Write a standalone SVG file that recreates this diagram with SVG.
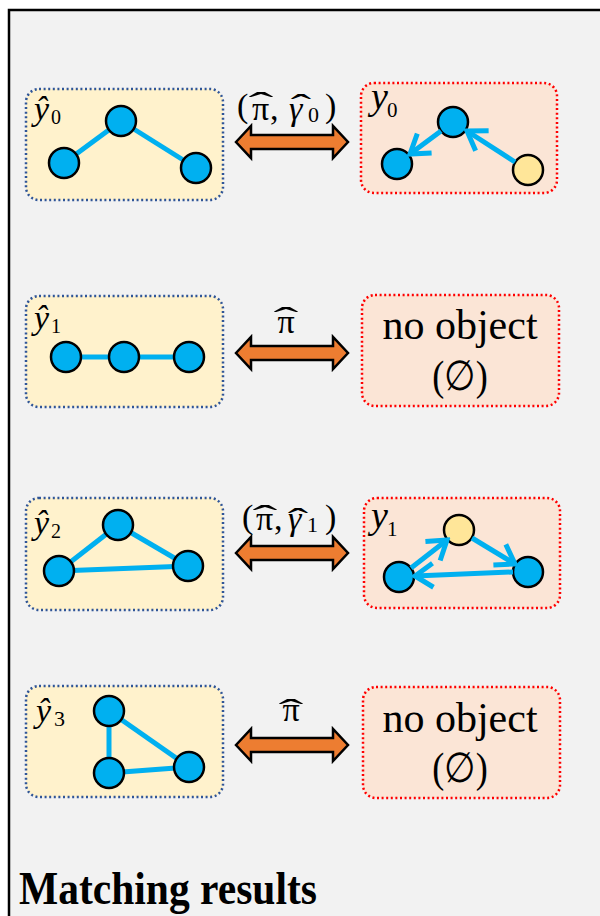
<svg xmlns="http://www.w3.org/2000/svg" width="600" height="916" viewBox="0 0 600 916">
<style>
.pred{fill:#fff2cc;stroke:#2f5597;stroke-width:2.5;stroke-dasharray:2 2.6}
.gt{fill:#fbe5d6;stroke:#ff0000;stroke-width:2.5;stroke-dasharray:2 2.6}
.n{fill:#00b0f0;stroke:#000;stroke-width:2.5}
.ny{fill:#ffe699;stroke:#000;stroke-width:2.5}
.e{stroke:#00b0f0;stroke-width:5;fill:none}
.da{fill:#ed7d31;stroke:#000;stroke-width:2.5;stroke-linejoin:miter}
.m{font-family:"Liberation Serif","DejaVu Serif",serif;fill:#000}
.mi{font-family:"Liberation Serif","DejaVu Serif",serif;font-style:italic;fill:#000}
.hat{font-family:"Liberation Serif","DejaVu Serif",serif;font-size:34px;fill:#000;text-anchor:middle}
.t{font-family:"Liberation Serif","DejaVu Serif",serif;font-size:42px;fill:#000;text-anchor:middle}
</style>
<defs>
<marker id="chev" markerUnits="userSpaceOnUse" viewBox="-24 -16 28 32" refX="0" refY="0" markerWidth="28" markerHeight="32" orient="auto">
<path d="M-18,-12 L0,0 L-18,12" fill="none" stroke="#00b0f0" stroke-width="5"/>
</marker>
<path id="dbl" class="da" d="M0,0 L15,-16 L15,-7 L97,-7 L97,-16 L112,0 L97,16 L97,7 L15,7 L15,16 Z"/>
</defs>
<rect x="0" y="0" width="600" height="916" fill="#ffffff"/>
<rect x="9" y="10" width="610" height="930" fill="#f2f2f2" stroke="#000" stroke-width="2.5"/>

<!-- Row 1 -->
<g id="pred0">
<rect class="pred" x="26" y="89" width="197" height="111" rx="13"/>
<line class="e" x1="121" y1="121" x2="64" y2="163"/>
<line class="e" x1="121" y1="121" x2="196" y2="168"/>
<circle class="n" cx="121" cy="121" r="15"/>
<circle class="n" cx="64" cy="163" r="15"/>
<circle class="n" cx="196" cy="168" r="15"/>
<text class="mi" x="34" y="120" font-size="34">ŷ</text>
<text class="m" x="51" y="124" font-size="20">0</text>
</g>
<g id="gt0">
<rect class="gt" x="361" y="83" width="196" height="110" rx="13"/>
<circle class="n" cx="453" cy="122" r="15"/>
<circle class="n" cx="397" cy="164" r="15"/>
<circle class="ny" cx="528" cy="170" r="15"/>
<text class="mi" x="371" y="109" font-size="38">y</text>
<text class="m" x="387" y="117" font-size="21">0</text>
</g>

<!-- Row 2 -->
<g id="pred1">
<rect class="pred" x="26" y="296" width="197" height="111" rx="13"/>
<line class="e" x1="66" y1="357" x2="189" y2="357"/>
<circle class="n" cx="66" cy="357" r="15"/>
<circle class="n" cx="124" cy="357" r="15"/>
<circle class="n" cx="189" cy="357" r="15"/>
<text class="mi" x="34" y="329" font-size="34">ŷ</text>
<text class="m" x="51" y="333" font-size="20">1</text>
</g>
<g id="gt1">
<rect class="gt" x="362" y="295" width="197" height="111" rx="13"/>
<text class="t" x="460" y="339">no object</text>
<text class="t" transform="translate(460,390) scale(0.86,1)">(∅)</text>
</g>

<!-- Row 3 -->
<g id="pred2">
<rect class="pred" x="26" y="498" width="197" height="112" rx="13"/>
<line class="e" x1="118" y1="525" x2="59" y2="571"/>
<line class="e" x1="118" y1="525" x2="188" y2="566"/>
<line class="e" x1="59" y1="571" x2="188" y2="566"/>
<circle class="n" cx="118" cy="525" r="15"/>
<circle class="n" cx="59" cy="571" r="15"/>
<circle class="n" cx="188" cy="566" r="15"/>
<text class="mi" x="34" y="534" font-size="34">ŷ</text>
<text class="m" x="51" y="538" font-size="20">2</text>
</g>
<g id="gt2">
<rect class="gt" x="364" y="498" width="196" height="110" rx="13"/>
<circle class="ny" cx="459" cy="530" r="15"/>
<circle class="n" cx="399" cy="577" r="15"/>
<circle class="n" cx="528" cy="572" r="15"/>
<text class="mi" x="371" y="528" font-size="38">y</text>
<text class="m" x="387" y="536" font-size="21">1</text>
</g>

<!-- Row 4 -->
<g id="pred3">
<rect class="pred" x="26" y="686" width="197" height="111" rx="13"/>
<line class="e" x1="109" y1="711" x2="109" y2="773"/>
<line class="e" x1="109" y1="711" x2="189" y2="767"/>
<line class="e" x1="109" y1="773" x2="189" y2="767"/>
<circle class="n" cx="109" cy="711" r="15"/>
<circle class="n" cx="109" cy="773" r="15"/>
<circle class="n" cx="189" cy="767" r="15"/>
<text class="mi" x="36" y="722" font-size="34">ŷ</text>
<text class="m" x="54" y="726" font-size="22">3</text>
</g>
<g id="gt3">
<rect class="gt" x="363" y="687" width="197" height="111" rx="13"/>
<text class="t" x="460" y="732">no object</text>
<text class="t" transform="translate(460,782) scale(0.86,1)">(∅)</text>
</g>

<!-- connectors -->
<g id="connectors">
<line class="e" x1="441" y1="131" x2="410" y2="154" marker-end="url(#chev)"/>
<line class="e" x1="515" y1="162" x2="467" y2="131" marker-end="url(#chev)"/>
<line class="e" x1="411" y1="568" x2="447" y2="540" marker-end="url(#chev)"/>
<line class="e" x1="472" y1="538" x2="515" y2="564" marker-end="url(#chev)"/>
<line class="e" x1="513" y1="572" x2="415" y2="576" marker-end="url(#chev)"/>
<use href="#dbl" x="236" y="142"/>
<use href="#dbl" x="236" y="353"/>
<use href="#dbl" x="236" y="553"/>
<use href="#dbl" x="236" y="745"/>
</g>

<g id="label0">
<text class="m" font-size="34" y="117"><tspan x="237">(</tspan><tspan x="252" y="120">π</tspan><tspan x="270" y="120">,</tspan><tspan x="289" y="120" font-style="italic">γ</tspan><tspan x="308" y="122" font-size="22">0</tspan><tspan x="325" y="117">)</tspan></text>
<text class="hat" transform="translate(261,116) scale(2.2,1)">ˆ</text>
<text class="hat" transform="translate(301,118) scale(1.8,1)">ˆ</text>
</g>
<g id="label1">
<text class="m" font-size="34" x="286" y="333" text-anchor="middle">π</text>
<text class="hat" transform="translate(286,331) scale(2.2,1)">ˆ</text>
</g>
<g id="label2">
<text class="m" font-size="34" y="528"><tspan x="242">(</tspan><tspan x="256" y="530">π</tspan><tspan x="274" y="530">,</tspan><tspan x="288" y="530" font-style="italic">γ</tspan><tspan x="307" y="532" font-size="22">1</tspan><tspan x="325" y="528">)</tspan></text>
<text class="hat" transform="translate(265,529) scale(2.2,1)">ˆ</text>
<text class="hat" transform="translate(298,532) scale(1.8,1)">ˆ</text>
</g>
<g id="label3">
<text class="m" font-size="34" x="291" y="721" text-anchor="middle">π</text>
<text class="hat" transform="translate(291,723) scale(2.2,1)">ˆ</text>
</g>

<text x="19" y="904" font-family="Liberation Serif, serif" font-weight="bold" font-size="46" textLength="298" lengthAdjust="spacingAndGlyphs">Matching results</text>
</svg>
